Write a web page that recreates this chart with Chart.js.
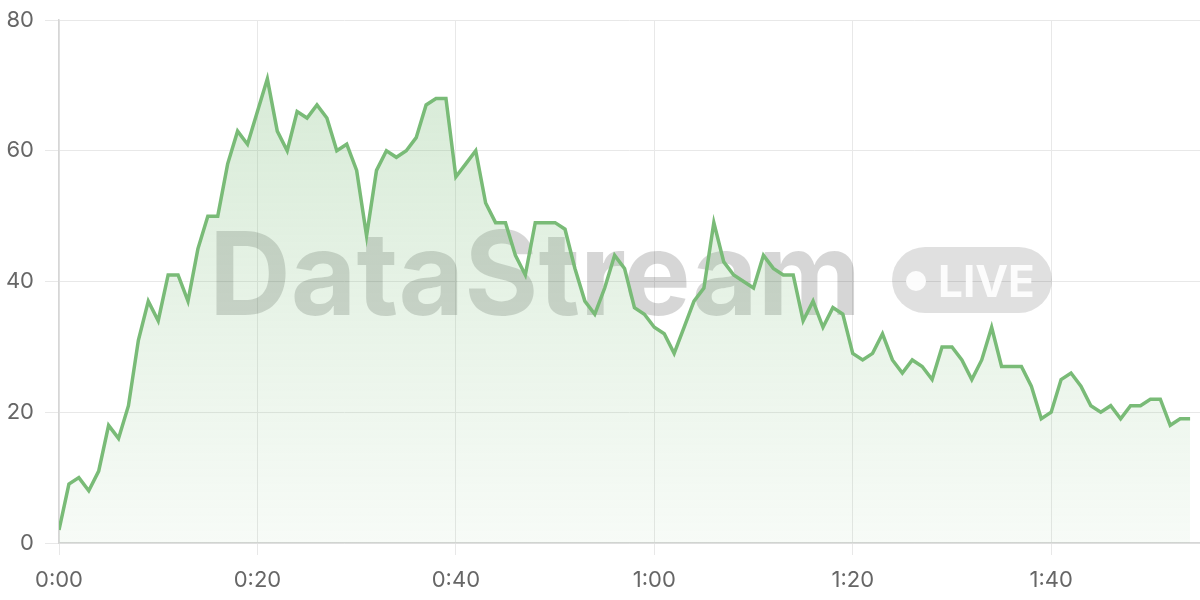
<!DOCTYPE html>
<html>
<head>
<meta charset="utf-8">
<script src="https://cdn.jsdelivr.net/npm/chart.js@4/dist/chart.umd.min.js"></script>
<style>
  html, body { margin: 0; padding: 0; background: #fff; }
  #wrap { width: 1200px; height: 600px; }
</style>
</head>
<body>
<div id="wrap"><canvas id="myChart" width="1200" height="600"></canvas></div>
<script>
// seconds since start
var seconds = [];
for (var i = 0; i <= 114; i++) seconds.push(i);

// viewers per second
var viewers = [
  2, 9, 10, 8, 11, 18, 16, 21, 31, 37,
  34, 41, 41, 37, 45, 50, 50, 58, 63, 61,
  66, 71, 63, 60, 66, 65, 67, 65, 60, 61,
  57, 47, 57, 60, 59, 60, 62, 67, 68, 68,
  56, 58, 60, 52, 49, 49, 44, 41, 49, 49,
  49, 48, 42, 37, 35, 39, 44, 42, 36, 35,
  33, 32, 29, 33, 37, 39, 49, 43, 41, 40,
  39, 44, 42, 41, 41, 34, 37, 33, 36, 35,
  29, 28, 29, 32, 28, 26, 28, 27, 25, 30,
  30, 28, 25, 28, 33, 27, 27, 27, 24, 19,
  20, 25, 26, 24, 21, 20, 21, 19, 21, 21,
  22, 22, 18, 19, 19
];

var xTicks = [0, 20, 40, 60, 80, 100];
var yTicks = [0, 20, 40, 60, 80];

function fmtTime(s) {
  var m = Math.floor(s / 60);
  var r = s % 60;
  return m + ':' + (r < 10 ? '0' : '') + r;
}

var points = seconds.map(function(s, i) { return { x: s, y: viewers[i] }; });

var watermark = {
  id: 'watermark',
  beforeDatasetsDraw: function(chart) {
    var ctx = chart.ctx;
    ctx.save();
    ctx.fillStyle = 'rgba(0,0,0,0.16)';
    ctx.textBaseline = 'alphabetic';
    ctx.textAlign = 'left';
    ctx.font = 'bold 116px Inter, "Liberation Sans", sans-serif';
    var w = ctx.measureText('DataStream').width;
    var target = 652;
    if (w < target && 'letterSpacing' in ctx) {
      ctx.letterSpacing = ((target - w) / 10) + 'px';
    }
    ctx.fillText('DataStream', 209, 315, target);
    ctx.letterSpacing = '0px';
    // LIVE pill
    var px = 892, py = 247, pw = 160, ph = 66, r = 33;
    ctx.fillStyle = 'rgba(0,0,0,0.12)';
    ctx.beginPath();
    ctx.moveTo(px + r, py);
    ctx.lineTo(px + pw - r, py);
    ctx.arc(px + pw - r, py + r, r, -Math.PI / 2, Math.PI / 2);
    ctx.lineTo(px + r, py + ph);
    ctx.arc(px + r, py + r, r, Math.PI / 2, Math.PI * 1.5);
    ctx.closePath();
    ctx.fill();
    ctx.fillStyle = 'rgba(255,255,255,0.9)';
    ctx.beginPath();
    ctx.arc(916, 281, 10, 0, Math.PI * 2);
    ctx.fill();
    ctx.font = 'bold 44px Inter, "Liberation Sans", sans-serif';
    ctx.fillText('LIVE', 938, 297, 97);
    ctx.restore();
  }
};

var ctx = document.getElementById('myChart');
var chart = new Chart(ctx, {
  type: 'line',
  data: {
    datasets: [{
      data: points,
      borderColor: '#79bb77',
      borderWidth: 3.5,
      pointRadius: 0,
      tension: 0,
      fill: 'origin',
      backgroundColor: function(c) {
        var area = c.chart.chartArea;
        if (!area) return 'rgba(121,187,119,0.15)';
        var g = c.chart.ctx.createLinearGradient(0, area.top, 0, area.bottom);
        g.addColorStop(0, 'rgba(121,187,119,0.32)');
        g.addColorStop(1, 'rgba(121,187,119,0.06)');
        return g;
      }
    }]
  },
  options: {
    responsive: false,
    animation: false,
    layout: { padding: { top: 20, right: 0, left: 0, bottom: 0 } },
    plugins: { legend: { display: false }, tooltip: { enabled: false } },
    scales: {
      x: {
        type: 'linear',
        min: 0,
        max: 115,
        afterBuildTicks: function(scale) {
          scale.ticks = xTicks.map(function(v) { return { value: v }; });
        },
        afterFit: function(scale) { scale.height = 57; },
        grid: { color: '#e8e8e8', tickLength: 12, lineWidth: 1 },
        border: { color: '#d6d6d6', width: 1.5 },
        ticks: {
          color: '#666',
          font: { family: 'Inter, sans-serif', size: 22 },
          padding: 12,
          maxRotation: 0,
          callback: function(v) { return fmtTime(v); }
        }
      },
      y: {
        min: 0,
        max: 80,
        afterBuildTicks: function(scale) {
          scale.ticks = yTicks.map(function(v) { return { value: v }; });
        },
        afterFit: function(scale) {
          scale.width = 59;
          scale.paddingTop = 0;
          scale.paddingBottom = 0;
        },
        grid: { color: '#e8e8e8', tickLength: 14, lineWidth: 1 },
        border: { color: '#d6d6d6', width: 1.5 },
        ticks: {
          color: '#666',
          font: { family: 'Inter, sans-serif', size: 22 },
          padding: 11
        }
      }
    }
  },
  plugins: [watermark]
});
</script>
</body>
</html>
